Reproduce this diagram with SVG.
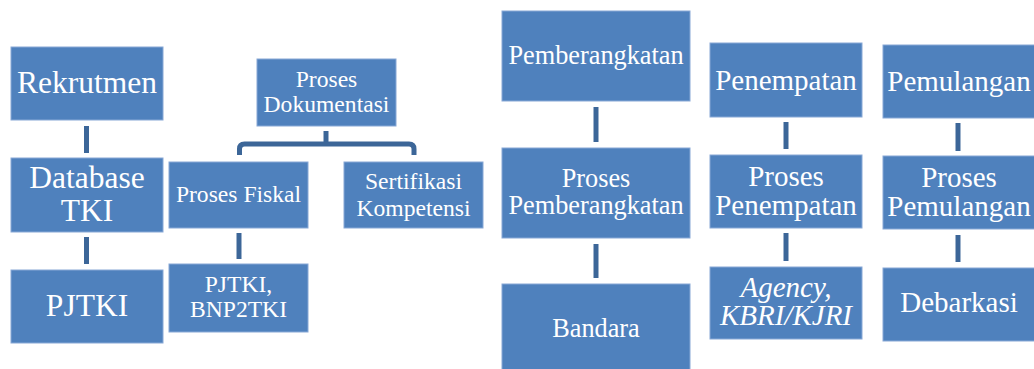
<svg xmlns="http://www.w3.org/2000/svg" width="1034" height="369" viewBox="0 0 1034 369">
<style>
.box{fill:#4F81BD;stroke:#88A8D6;stroke-width:1}
text{font-family:'Liberation Serif','DejaVu Serif',serif;fill:#FFFFFF;text-anchor:middle}
.l{font-size:31.5px}
.s{font-size:23.6px}
.m{font-size:26.3px}
.r{font-size:29px}
.i{font-style:italic}
.c{stroke:#3C6698;stroke-width:5;fill:none}
</style>
<rect width="1034" height="369" fill="#FFFFFF"/>
<g id="connectors">
<line class="c" x1="86.5" y1="126" x2="86.5" y2="153"/>
<line class="c" x1="86.5" y1="237" x2="86.5" y2="264"/>
<line class="c" x1="326" y1="131" x2="326" y2="144"/>
<path class="c" d="M239.5 155 V149 Q239.5 144 244.5 144 H409 Q414 144 414 149 V155"/>
<line class="c" x1="239" y1="233" x2="239" y2="259"/>
<line class="c" x1="596" y1="107" x2="596" y2="142"/>
<line class="c" x1="596" y1="244" x2="596" y2="278"/>
<line class="c" x1="786" y1="122" x2="786" y2="149"/>
<line class="c" x1="786" y1="233" x2="786" y2="261"/>
<line class="c" x1="958" y1="123" x2="958" y2="151"/>
<line class="c" x1="958" y1="235" x2="958" y2="262"/>
</g>
<g font-family="Liberation Serif, DejaVu Serif, serif">
<g id="rekrutmen"><rect class="box" x="11" y="47" width="152" height="73"/><text class="l" x="87" y="93">Rekrutmen</text></g>
<g id="database-tki"><rect class="box" x="11" y="158" width="152" height="74"/><text class="l" x="87" y="188">Database</text><text class="l" x="87" y="221">TKI</text></g>
<g id="pjtki"><rect class="box" x="11" y="270" width="152" height="73"/><text class="l" x="87" y="316">PJTKI</text></g>
<g id="proses-dokumentasi"><rect class="box" x="257" y="59" width="139" height="67"/><text class="s" x="326.5" y="86.5">Proses</text><text class="s" x="326.5" y="112">Dokumentasi</text></g>
<g id="proses-fiskal"><rect class="box" x="169" y="162" width="139" height="66"/><text class="s" x="238.5" y="202">Proses Fiskal</text></g>
<g id="sertifikasi-kompetensi"><rect class="box" x="344" y="162" width="139" height="66"/><text class="s" x="413.5" y="188.5">Sertifikasi</text><text class="s" x="413.5" y="215.5">Kompetensi</text></g>
<g id="pjtki-bnp2tki"><rect class="box" x="169" y="264" width="139" height="68"/><text class="s" x="238.5" y="291.5">PJTKI,</text><text class="s" x="238.5" y="317">BNP2TKI</text></g>
<g id="pemberangkatan"><rect class="box" x="502" y="11" width="188" height="90"/><text class="m" x="596" y="63.5">Pemberangkatan</text></g>
<g id="proses-pemberangkatan"><rect class="box" x="502" y="148" width="188" height="90"/><text class="m" x="596" y="187">Proses</text><text class="m" x="596" y="214">Pemberangkatan</text></g>
<g id="bandara"><rect class="box" x="502" y="284" width="188" height="90"/><text class="m" x="596" y="337">Bandara</text></g>
<g id="penempatan"><rect class="box" x="710" y="43" width="152" height="74"/><text class="r" x="786" y="90">Penempatan</text></g>
<g id="proses-penempatan"><rect class="box" x="710" y="155" width="152" height="73"/><text class="r" x="786" y="185.5">Proses</text><text class="r" x="786" y="215">Penempatan</text></g>
<g id="agency-kbri-kjri"><rect class="box" x="710" y="267" width="152" height="72"/><text class="r i" x="786" y="296.5">Agency,</text><text class="r i" x="786" y="325">KBRI/KJRI</text></g>
<g id="pemulangan"><rect class="box" x="883" y="45" width="152" height="73"/><text class="r" x="959" y="91">Pemulangan</text></g>
<g id="proses-pemulangan"><rect class="box" x="883" y="156" width="152" height="73"/><text class="r" x="959" y="186.5">Proses</text><text class="r" x="959" y="216">Pemulangan</text></g>
<g id="debarkasi"><rect class="box" x="883" y="268" width="152" height="73"/><text class="r" x="959" y="312">Debarkasi</text></g>
</g>
</svg>
